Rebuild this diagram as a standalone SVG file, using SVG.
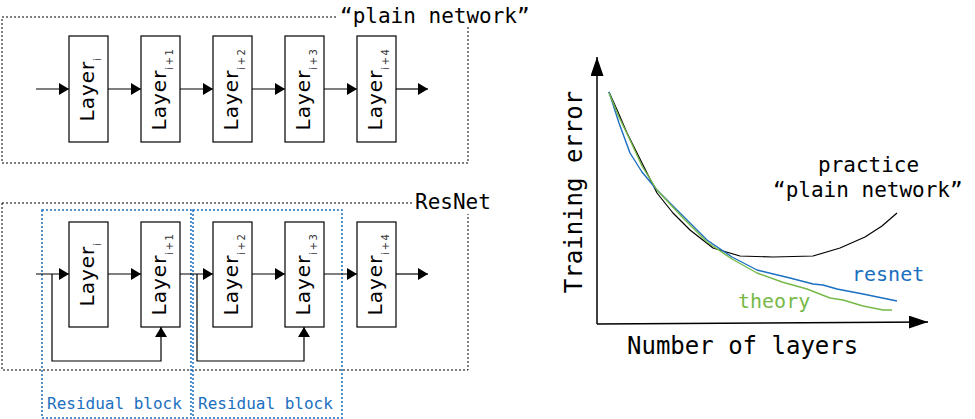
<svg xmlns="http://www.w3.org/2000/svg" width="975" height="419" viewBox="0 0 975 419">
<defs>
<style>
.box{fill:#fff;stroke:#000;stroke-width:1.2}
.lt{font-family:"DejaVu Sans",sans-serif;font-size:20px;letter-spacing:1px;fill:#000}
.sub{font-size:10px;letter-spacing:1.5px;fill:#333}
.mono{font-family:"DejaVu Sans Mono",monospace;fill:#000}
.dot{fill:none;stroke:#000;stroke-width:1;stroke-dasharray:2,2}
.bdot{fill:none;stroke:#1a6fc0;stroke-width:1.5;stroke-dasharray:2,2}
.ln{fill:none;stroke:#000;stroke-width:1.2}
.ax{fill:none;stroke:#000;stroke-width:1.5}
</style>
<marker id="ah" markerUnits="userSpaceOnUse" markerWidth="10" markerHeight="12" refX="10" refY="6" orient="auto">
<path d="M0,0 L10,6 L0,12 z" fill="#000"/>
</marker>
<marker id="axh" markerUnits="userSpaceOnUse" markerWidth="19" markerHeight="13" refX="19" refY="6.5" orient="auto">
<path d="M0,0 L19,6.5 L0,13 z" fill="#000"/>
</marker>
</defs>
<rect width="975" height="419" fill="#fff"/>

<g id="plain-frame">
<rect class="dot" x="2" y="17" width="466" height="146"/>
<rect x="337" y="2" width="196" height="25" fill="#fff"/>
<text class="mono" x="340" y="23" font-size="21">“plain network”</text>
</g>

<g id="resnet-frame">
<rect class="dot" x="2" y="203" width="466" height="167"/>
<rect x="412" y="190" width="82" height="24" fill="#fff"/>
<text class="mono" x="415" y="209" font-size="21">ResNet</text>
</g>

<g id="residual-block-1">
<rect class="bdot" x="42" y="210" width="149" height="208"/>
<text class="mono" x="47" y="409" font-size="16" style="fill:#1a6fc0">Residual block</text>
</g>
<g id="residual-block-2">
<rect class="bdot" x="193" y="210" width="149" height="208"/>
<text class="mono" x="198" y="409" font-size="16" style="fill:#1a6fc0">Residual block</text>
</g>

<g id="connectors">
<line class="ln" x1="36" y1="89" x2="69" y2="89" marker-end="url(#ah)"/>
<line class="ln" x1="108" y1="89" x2="141" y2="89" marker-end="url(#ah)"/>
<line class="ln" x1="180" y1="89" x2="213" y2="89" marker-end="url(#ah)"/>
<line class="ln" x1="252" y1="89" x2="285" y2="89" marker-end="url(#ah)"/>
<line class="ln" x1="324" y1="89" x2="357" y2="89" marker-end="url(#ah)"/>
<line class="ln" x1="396" y1="89" x2="428" y2="89" marker-end="url(#ah)"/>
<line class="ln" x1="36" y1="274" x2="69" y2="274" marker-end="url(#ah)"/>
<line class="ln" x1="108" y1="274" x2="141" y2="274" marker-end="url(#ah)"/>
<line class="ln" x1="180" y1="274" x2="213" y2="274" marker-end="url(#ah)"/>
<line class="ln" x1="252" y1="274" x2="285" y2="274" marker-end="url(#ah)"/>
<line class="ln" x1="324" y1="274" x2="357" y2="274" marker-end="url(#ah)"/>
<line class="ln" x1="396" y1="274" x2="428" y2="274" marker-end="url(#ah)"/>
<polyline class="ln" points="52,274 52,361 161,361 161,327" marker-end="url(#ah)"/>
<polyline class="ln" points="197,274 197,361 304,361 304,327" marker-end="url(#ah)"/>
</g>

<g id="p-layer-i"><rect class="box" x="69" y="36" width="39" height="106"/><text class="lt" transform="translate(94,89) rotate(-90)" text-anchor="middle">Layer<tspan class="sub" dy="7">i</tspan></text></g>
<g id="p-layer-i1"><rect class="box" x="141" y="36" width="39" height="106"/><text class="lt" transform="translate(166,89) rotate(-90)" text-anchor="middle">Layer<tspan class="sub" dy="7">i+1</tspan></text></g>
<g id="p-layer-i2"><rect class="box" x="213" y="36" width="39" height="106"/><text class="lt" transform="translate(238,89) rotate(-90)" text-anchor="middle">Layer<tspan class="sub" dy="7">i+2</tspan></text></g>
<g id="p-layer-i3"><rect class="box" x="285" y="36" width="39" height="106"/><text class="lt" transform="translate(310,89) rotate(-90)" text-anchor="middle">Layer<tspan class="sub" dy="7">i+3</tspan></text></g>
<g id="p-layer-i4"><rect class="box" x="357" y="36" width="39" height="106"/><text class="lt" transform="translate(382,89) rotate(-90)" text-anchor="middle">Layer<tspan class="sub" dy="7">i+4</tspan></text></g>

<g id="r-layer-i"><rect class="box" x="69" y="222" width="39" height="105"/><text class="lt" transform="translate(94,274) rotate(-90)" text-anchor="middle">Layer<tspan class="sub" dy="7">i</tspan></text></g>
<g id="r-layer-i1"><rect class="box" x="141" y="222" width="39" height="105"/><text class="lt" transform="translate(166,274) rotate(-90)" text-anchor="middle">Layer<tspan class="sub" dy="7">i+1</tspan></text></g>
<g id="r-layer-i2"><rect class="box" x="213" y="222" width="39" height="105"/><text class="lt" transform="translate(238,274) rotate(-90)" text-anchor="middle">Layer<tspan class="sub" dy="7">i+2</tspan></text></g>
<g id="r-layer-i3"><rect class="box" x="285" y="222" width="39" height="105"/><text class="lt" transform="translate(310,274) rotate(-90)" text-anchor="middle">Layer<tspan class="sub" dy="7">i+3</tspan></text></g>
<g id="r-layer-i4"><rect class="box" x="357" y="222" width="39" height="105"/><text class="lt" transform="translate(382,274) rotate(-90)" text-anchor="middle">Layer<tspan class="sub" dy="7">i+4</tspan></text></g>

<g id="chart">
<line class="ax" x1="597" y1="324" x2="597" y2="57" marker-end="url(#axh)"/>
<line class="ax" x1="597" y1="324" x2="928" y2="322" marker-end="url(#axh)"/>
<text class="mono" font-size="24" transform="translate(582,192) rotate(-90)" text-anchor="middle">Training error</text>
<text class="mono" font-size="24" x="627" y="354">Number of layers</text>
<polyline fill="none" stroke="#000" stroke-width="1.2" stroke-linejoin="round" points="609,92 618,112 627,133 642,163 657,193 673,213 690,230 713,248 740,256 773,257 813,256 840,248 865,237 882,226 897,213"/>
<polyline fill="none" stroke="#1a6fc0" stroke-width="1.4" stroke-linejoin="round" points="609,92 619,123 630,153 642,172 657,190 682,215 707,240 732,257 757,270 790,278 813,284 823,285 837,289 863,294 897,301"/>
<polyline fill="none" stroke="#76b947" stroke-width="1.4" stroke-linejoin="round" points="609,93 619,117 630,140 642,166 657,190 682,217 707,242 732,259 757,273 782,282 807,289 830,298 843,300 863,306 883,310 892,310"/>
<text class="mono" font-size="21" x="818" y="172">practice</text>
<text class="mono" font-size="21" x="773" y="197">“plain network”</text>
<text class="mono" font-size="20" x="852" y="281" style="fill:#1a6fc0">resnet</text>
<text class="mono" font-size="20" x="738" y="308" style="fill:#76b947">theory</text>
</g>
</svg>
